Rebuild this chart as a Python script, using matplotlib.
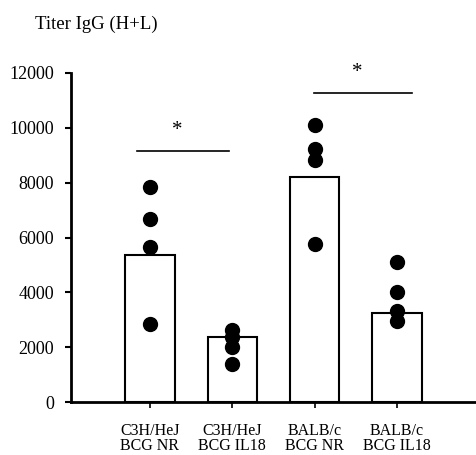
import matplotlib
matplotlib.use("Agg")
import matplotlib.pyplot as plt
import numpy as np

plt.rcParams['font.family'] = ['Liberation Serif', 'DejaVu Serif']

groups = ['C3H/HeJ\nBCG NR', 'C3H/HeJ\nBCG IL18', 'BALB/c\nBCG NR', 'BALB/c\nBCG IL18']
means = [5380, 2360, 8220, 3250]
points = [
    [7850, 6690, 5670, 2840],
    [2620, 2360, 2000, 1380],
    [10110, 9240, 8840, 5750],
    [5090, 4000, 3310, 2950],
]
# significance bars: (start, end, height)
sig = [(-0.16, 0.96, 9160), (1.99, 3.18, 11270)]

fig = plt.figure(figsize=(4.76, 4.55), dpi=100)
ax = fig.add_axes([0.149, 0.116, 0.851, 0.724])

x = np.arange(len(groups))
ax.bar(x, means, width=0.6, color='white', edgecolor='black', linewidth=1.5, zorder=2)
for i, vals in enumerate(points):
    ax.plot([i] * len(vals), vals, 'o', color='black', markersize=10, zorder=3)

for x0, x1, h in sig:
    ax.plot([x0, x1], [h, h], color='black', linewidth=1.2)
    ax.text((x0 + x1) / 2 - 0.07, h + 400, '*', ha='center', va='bottom', fontsize=15)

ax.set_xlim(-0.96, 3.96)
ax.set_ylim(0, 12000)
ax.set_yticks(range(0, 12001, 2000))
ax.set_xticks(x)
ax.set_xticklabels(groups, fontsize=11.5, linespacing=0.95)
ax.tick_params(axis='y', labelsize=13, length=4, width=1.5, pad=8)
ax.tick_params(axis='x', length=4, width=1.2, pad=11)
for s in ['top', 'right']:
    ax.spines[s].set_visible(False)
ax.spines['left'].set_linewidth(2)
ax.spines['bottom'].set_linewidth(2)

fig.text(0.074, 0.947, 'Titer IgG (H+L)', fontsize=13.5, va='center', ha='left')

fig.savefig('out.png', dpi=100)
